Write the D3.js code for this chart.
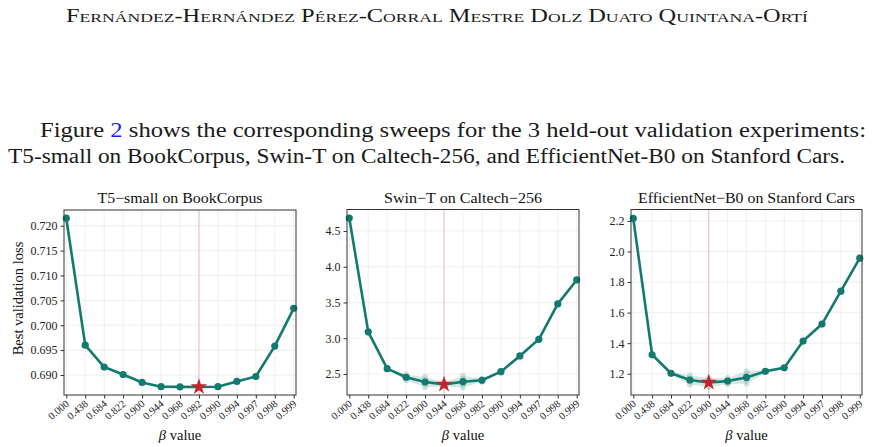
<!DOCTYPE html>
<html><head><meta charset="utf-8">
<script src="https://cdn.jsdelivr.net/npm/d3@7/dist/d3.min.js"></script>
<style>
html,body{margin:0;padding:0;background:#fff;}
svg{display:block;}
</style></head>
<body>
<svg id="c" width="874" height="447"></svg>
<script>
const headerText = "Fernández-Hernández Pérez-Corral Mestre Dolz Duato Quintana-Ortí";
const paraLine1 = ["Figure ", "2", " shows the corresponding sweeps for the 3 held-out validation experiments:"];
const paraLine2 = "T5-small on BookCorpus, Swin-T on Caltech-256, and EfficientNet-B0 on Stanford Cars.";

const betaLabels = ["0.000","0.438","0.684","0.822","0.900","0.944","0.968","0.982","0.990","0.994","0.997","0.998","0.999"];

const panelTitles = ["T5\u2212small on BookCorpus", "Swin\u2212T on Caltech\u2212256", "EfficientNet\u2212B0 on Stanford Cars"];

const t5Loss   = [0.7215, 0.6960, 0.6916, 0.6901, 0.6885, 0.68765, 0.68762, 0.68760, 0.68765, 0.6887, 0.6897, 0.6958, 0.7034];
const t5Spread = [0, 0, 0, 0, 0, 0, 0, 0, 0, 0, 0, 0, 0];
const swinLoss   = [4.68, 3.09, 2.574, 2.454, 2.388, 2.355, 2.392, 2.412, 2.532, 2.752, 2.985, 3.48, 3.815];
const swinSpread = [0, 0, 0.01, 0.04, 0.07, 0.03, 0.08, 0.02, 0.01, 0, 0, 0, 0];
const effLoss   = [2.216, 1.324, 1.203, 1.159, 1.143, 1.152, 1.176, 1.216, 1.239, 1.414, 1.525, 1.740, 1.956];
const effSpread = [0, 0, 0.01, 0.03, 0.03, 0.02, 0.04, 0.01, 0.01, 0, 0, 0, 0];

const t5Ticks   = [0.690, 0.695, 0.700, 0.705, 0.710, 0.715, 0.720];
const swinTicks = [2.5, 3.0, 3.5, 4.0, 4.5];
const effTicks  = [1.2, 1.4, 1.6, 1.8, 2.0, 2.2];

const t5Domain   = [0.68598, 0.72315];
const swinDomain = [2.206, 4.80];
const effDomain  = [1.061, 2.2745];

const panels = [
  {title: panelTitles[0], tw: 165, loss: t5Loss, spread: t5Spread, ticks: t5Ticks, domain: t5Domain, fmt: ".3f", box: {x: 64, y: 210, w: 232, h: 185}, ylabel: true},
  {title: panelTitles[1], tw: 158, loss: swinLoss, spread: swinSpread, ticks: swinTicks, domain: swinDomain, fmt: ".1f", box: {x: 347, y: 209.5, w: 232, h: 185.5}},
  {title: panelTitles[2], tw: 217, loss: effLoss, spread: effSpread, ticks: effTicks, domain: effDomain, fmt: ".1f", box: {x: 631, y: 209.5, w: 231, h: 185.5}}
];

const TEAL = "#137a6f";
const RED = "#c4242b";
const SERIF = "Liberation Serif, DejaVu Serif, serif";

const svg = d3.select("#c");

// Header
svg.append("text")
  .attr("x", 437).attr("y", 22)
  .attr("text-anchor", "middle")
  .style("font-family", SERIF)
  .attr("font-size", 18)
  .style("font-variant", "small-caps")
  .attr("textLength", 742).attr("lengthAdjust", "spacingAndGlyphs")
  .attr("fill", "#1a1a1a")
  .text(headerText);

// Paragraph
const l1 = svg.append("text")
  .attr("x", 40).attr("y", 137)
  .style("font-family", SERIF).attr("font-size", 20.5)
  .attr("fill", "#1a1a1a")
  .attr("textLength", 826).attr("lengthAdjust", "spacingAndGlyphs");
l1.append("tspan").text(paraLine1[0]);
l1.append("tspan").attr("fill", "#1a1aff").text(paraLine1[1]);
l1.append("tspan").text(paraLine1[2]);

svg.append("text")
  .attr("x", 8).attr("y", 163)
  .style("font-family", SERIF).attr("font-size", 20.5)
  .attr("fill", "#1a1a1a")
  .attr("textLength", 837).attr("lengthAdjust", "spacingAndGlyphs")
  .text(paraLine2);

panels.forEach(p => {
  const b = p.box;
  const g = svg.append("g");
  const x = d3.scaleLinear().domain([-0.12, betaLabels.length - 1 + 0.12]).range([b.x, b.x + b.w]);
  const y = d3.scaleLinear().domain(p.domain).range([b.y + b.h, b.y]);
  const idx = d3.range(betaLabels.length);
  const best = d3.minIndex(p.loss);

  // grid
  g.append("g").selectAll("line").data(idx).join("line")
    .attr("x1", d => x(d)).attr("x2", d => x(d))
    .attr("y1", b.y).attr("y2", b.y + b.h)
    .attr("stroke", "#ebebeb").attr("stroke-width", 0.8);
  g.append("g").selectAll("line").data(p.ticks).join("line")
    .attr("x1", b.x).attr("x2", b.x + b.w)
    .attr("y1", d => y(d)).attr("y2", d => y(d))
    .attr("stroke", "#ebebeb").attr("stroke-width", 0.8);

  // best vline
  g.append("line")
    .attr("x1", x(best)).attr("x2", x(best))
    .attr("y1", b.y).attr("y2", b.y + b.h)
    .attr("stroke", RED).attr("stroke-opacity", 0.22).attr("stroke-width", 1.2);

  // band
  const area = d3.area().x(d => x(d)).y0(d => y(p.loss[d] - p.spread[d])).y1(d => y(p.loss[d] + p.spread[d]));
  g.append("path").datum(idx).attr("d", area).attr("fill", TEAL).attr("fill-opacity", 0.18);
  const spreadIdx = idx.filter(i => p.spread[i] > 0.015);
  g.append("g").selectAll("circle").data(spreadIdx.flatMap(i => [[i, p.loss[i] + p.spread[i]], [i, p.loss[i] - p.spread[i]]])).join("circle")
    .attr("cx", d => x(d[0])).attr("cy", d => y(d[1])).attr("r", 3)
    .attr("fill", TEAL).attr("fill-opacity", 0.2);

  // line
  const line = d3.line().x(d => x(d)).y(d => y(p.loss[d]));
  g.append("path").datum(idx).attr("d", line)
    .attr("fill", "none").attr("stroke", TEAL).attr("stroke-width", 2.6).attr("stroke-linejoin", "round");
  g.append("g").selectAll("circle").data(idx.filter(i => i !== best)).join("circle")
    .attr("cx", d => x(d)).attr("cy", d => y(p.loss[d])).attr("r", 3.6)
    .attr("fill", TEAL);
  g.append("path")
    .attr("d", d3.symbol(d3.symbolStar, 85)())
    .attr("transform", `translate(${x(best)},${y(p.loss[best])})`)
    .attr("fill", RED);

  // frame
  g.append("rect").attr("x", b.x).attr("y", b.y).attr("width", b.w).attr("height", b.h)
    .attr("fill", "none").attr("stroke", "#333").attr("stroke-width", 1);

  // y axis
  const ya = d3.axisLeft(y).tickValues(p.ticks).tickFormat(d3.format(p.fmt)).tickSize(3.5).tickPadding(3);
  const yg = g.append("g").attr("transform", `translate(${b.x},0)`).call(ya);
  yg.attr("font-family", null);
  yg.select(".domain").remove();
  yg.selectAll("line").attr("stroke", "#333");
  yg.selectAll("text").style("font-family", SERIF).attr("font-size", 12).attr("fill", "#222");

  // x axis
  const xa = d3.axisBottom(x).tickValues(idx).tickFormat(i => betaLabels[i]).tickSize(3.5).tickPadding(2);
  const xg = g.append("g").attr("transform", `translate(0,${b.y + b.h})`).call(xa);
  xg.attr("font-family", null);
  xg.select(".domain").remove();
  xg.selectAll("line").attr("stroke", "#333");
  xg.selectAll("text")
    .style("font-family", SERIF).attr("font-size", 10.5).attr("fill", "#222")
    .attr("text-anchor", "end")
    .attr("dy", 0).attr("y", 0)
    .attr("transform", "translate(3,10) rotate(-40)");

  // title
  g.append("text").attr("x", b.x + b.w / 2).attr("y", b.y - 7)
    .attr("text-anchor", "middle").style("font-family", SERIF).attr("font-size", 15)
    .attr("textLength", p.tw).attr("lengthAdjust", "spacingAndGlyphs")
    .attr("fill", "#111").text(p.title);

  // x label
  const xl = g.append("text").attr("x", b.x + b.w / 2).attr("y", 440)
    .attr("text-anchor", "middle").style("font-family", SERIF).attr("font-size", 14.5).attr("fill", "#111");
  xl.append("tspan").attr("font-style", "italic").text("\u03b2");
  xl.append("tspan").text(" value");

  if (p.ylabel) {
    g.append("text").attr("transform", `translate(23,${b.y + b.h / 2 - 4}) rotate(-90)`)
      .attr("text-anchor", "middle").style("font-family", SERIF).attr("font-size", 14.5)
      .attr("fill", "#111").text("Best validation loss");
  }
});
</script>
</body></html>
